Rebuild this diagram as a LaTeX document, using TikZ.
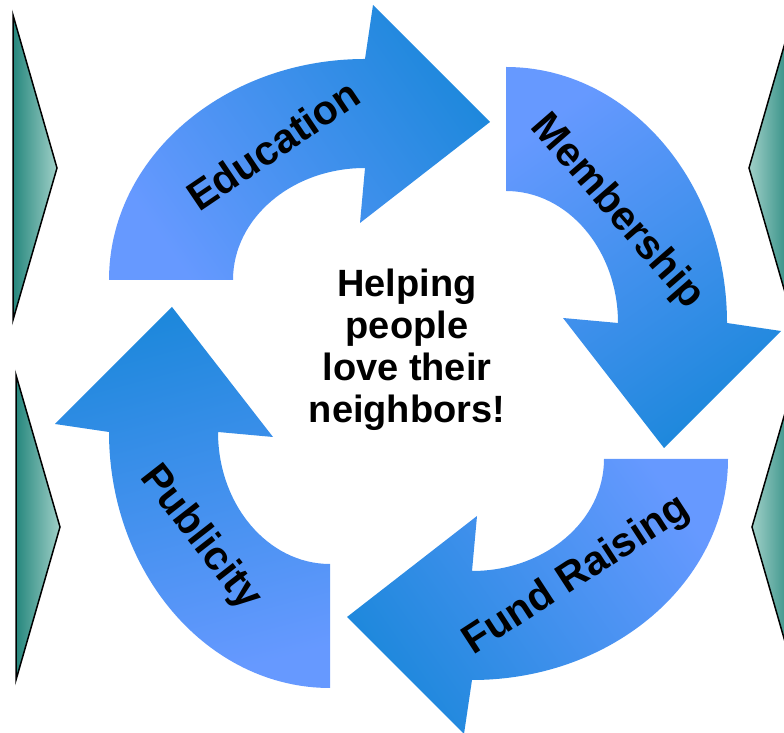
\documentclass[tikz,border=0pt]{standalone}
\usepackage{fontspec}
\setmainfont{Liberation Sans}
\definecolor{lightblue}{RGB}{102,153,255}
\definecolor{darkblue}{RGB}{30,136,220}
\definecolor{tealdark}{RGB}{38,135,125}
\definecolor{teallight}{RGB}{160,208,200}
\begin{document}
\begin{tikzpicture}[x=1pt,y=1pt,
  cyc/.style={left color=lightblue, right color=darkblue, draw=none},
  tri/.style={draw=black, line width=1.5pt, line join=miter},
  lbl/.style={font=\bfseries\fontsize{41}{44}\selectfont, inner sep=0pt},
  hubtext/.style={font=\bfseries\fontsize{38}{42}\selectfont, align=center, inner sep=0pt}]
\useasboundingbox (0,0) rectangle (784,733);
\clip (0,0) rectangle (784,733);
% side triangles
\path[tri, left color=tealdark, right color=teallight] (13,718) -- (57,565) -- (13,413) -- cycle;
\path[tri, left color=tealdark, right color=teallight] (16,358) -- (60,206) -- (16,53) -- cycle;
\path[tri, left color=teallight, right color=tealdark] (793,718) -- (749,565) -- (793,413) -- cycle;
\path[tri, left color=teallight, right color=tealdark] (796,358) -- (752,206) -- (796,53) -- cycle;
% Education arrow
\path[cyc, shading angle=125] (109,453) arc[start angle=180, end angle=90, x radius=256pt, y radius=221pt]
  -- (373,728) -- (490,611) -- (360,510) -- (365,565)
  arc[start angle=90, end angle=180, x radius=132pt, y radius=112pt] -- cycle;
% Membership arrow
\path[cyc, shading angle=35] (506,666) arc[start angle=90, end angle=0, x radius=221pt, y radius=256pt]
  -- (781,402) -- (664,285) -- (563,415) -- (618,410)
  arc[start angle=0, end angle=90, x radius=112pt, y radius=132pt] -- cycle;
% Fund Raising arrow
\path[cyc, shading angle=-55] (728,274) arc[start angle=0, end angle=-90, x radius=256pt, y radius=221pt]
  -- (464,-1) -- (347,116) -- (477,217) -- (472,162)
  arc[start angle=-90, end angle=0, x radius=132pt, y radius=112pt] -- cycle;
% Publicity arrow
\path[cyc, shading angle=195] (330,45) arc[start angle=-90, end angle=-180, x radius=221pt, y radius=256pt]
  -- (55,309) -- (172,426) -- (273,296) -- (218,301)
  arc[start angle=180, end angle=270, x radius=112pt, y radius=132pt] -- cycle;
% labels
\node[lbl, rotate=34] (edu) at (273,588) {Education};
\node[lbl, rotate=-49] (mem) at (617,521) {Membership};
\node[lbl, rotate=33] (fund) at (577,157) {Fund Raising};
\node[lbl, rotate=-52] (pub) at (200,195) {Publicity};
\node[hubtext] (hub) at (407,383) {Helping\\people\\love their\\neighbors!};
\end{tikzpicture}
\end{document}
